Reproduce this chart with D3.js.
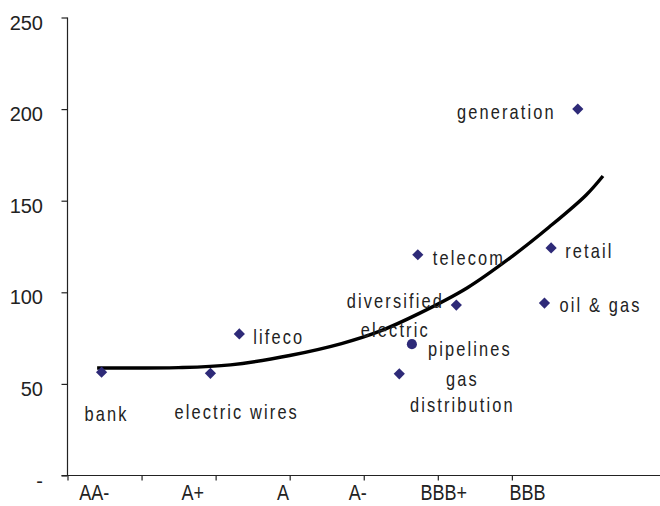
<!DOCTYPE html>
<html>
<head>
<meta charset="utf-8">
<script src="https://cdn.jsdelivr.net/npm/d3@7"></script>
<style>
  html, body { margin: 0; padding: 0; background: #fff; }
  svg { display: block; }
  .ytick { font-family: "Liberation Sans", Arial, sans-serif; font-size: 20px; fill: #222; }
  .xtick { font-family: "Liberation Sans", Arial, sans-serif; font-size: 22px; fill: #222; }
  .plabel { font-family: "Liberation Sans", Arial, sans-serif; font-size: 20px; letter-spacing: 2.6px; fill: #222; }
</style>
</head>
<body>
<svg id="chart" width="660" height="506"></svg>
<script>
// Rating scale: category names and their place on the numeric x axis
const ratings = ["AA-", "A+", "A", "A-", "BBB+", "BBB"];
const ratingPos = [0.36, 1.69, 2.91, 3.92, 5.08, 6.21];
const xTickValues = [0, 1, 2, 3, 4, 5, 6];

// Y axis ticks (spread, bp)
const yTickValues = [0, 50, 100, 150, 200, 250];
const yTickLabels = ["-", "50", "100", "150", "200", "250"];

// Sectors: rating position and spread
const sectors = ["bank", "electric wires", "lifeco", "gas distribution", "pipelines",
                 "telecom", "diversified electric", "oil & gas", "retail", "generation"];
const sectorRating = [0.46, 1.93, 2.32, 4.48, 4.65, 4.73, 5.25, 6.44, 6.53, 6.89];
const sectorSpread = [56.4, 55.8, 77.3, 55.5, 71.7, 120.5, 93.0, 94.1, 124.2, 200];
const sectorShape = ["diamond", "diamond", "diamond", "diamond", "circle",
                     "diamond", "diamond", "diamond", "diamond", "diamond"];

// Trend curve through rating / spread
const trendRating = [0.40, 1.5, 2.2, 3.0, 3.7, 4.2, 4.75, 5.4, 6.0, 6.5, 7.0, 7.23];
const trendSpread = [58.7, 58.9, 60.4, 65.5, 72.0, 78.5, 88.5, 102.5, 119.5, 135.5, 153.0, 163.5];

// Label placement (pixel offsets from the marker, one or two lines)
const labelStyle = {
  "bank":                 { anchor: "start",  dx: -17, dy: [49] },
  "electric wires":       { anchor: "start",  dx: -36, dy: [46] },
  "lifeco":               { anchor: "start",  dx: 14,  dy: [10] },
  "gas distribution":     { anchor: "middle", dx: 63,  dy: [12, 38], lines: ["gas", "distribution"] },
  "pipelines":            { anchor: "start",  dx: 16,  dy: [12] },
  "telecom":              { anchor: "start",  dx: 15,  dy: [10] },
  "diversified electric": { anchor: "middle", dx: -61, dy: [3, 32], lines: ["diversified", "electric"] },
  "oil & gas":            { anchor: "start",  dx: 15,  dy: [9] },
  "retail":               { anchor: "start",  dx: 14,  dy: [10] },
  "generation":           { anchor: "end",    dx: -22, dy: [10] }
};

// Condensed look for the category and sector text
const narrowX = 0.82;
const narrowTick = 0.82;

const svg = d3.select("#chart");
const x = d3.scaleLinear().domain([0, 8]).range([67.5, 660]);
const y = d3.scaleLinear().domain([0, 250]).range([475.5, 17.5]);
const axisColor = "#222";

// Y axis
const yAxis = svg.append("g")
  .attr("transform", `translate(${x(0)},0)`)
  .call(d3.axisLeft(y).tickValues(yTickValues).tickSize(6).tickFormat(""));
yAxis.select(".domain").attr("d", `M0,${y(0)}V${y(250)}`);
yAxis.selectAll("path, line").attr("stroke", axisColor).attr("stroke-width", 1.2);
svg.append("g").selectAll("text").data(yTickValues).join("text")
  .attr("class", "ytick")
  .attr("x", 43)
  .attr("y", d => y(d) + 12)
  .attr("text-anchor", "end")
  .text((d, i) => yTickLabels[i]);

// X axis
const xAxis = svg.append("g")
  .attr("transform", `translate(0,${y(0)})`)
  .call(d3.axisBottom(x).tickValues(xTickValues).tickSize(5).tickFormat(""));
xAxis.select(".domain").attr("d", `M${x(0) - 6},0H660`);
xAxis.selectAll("path, line").attr("stroke", axisColor).attr("stroke-width", 1.2);
svg.append("g").selectAll("text").data(ratings).join("text")
  .attr("class", "xtick")
  .attr("transform", (d, i) => `translate(${x(ratingPos[i])},500) scale(${narrowTick},1)`)
  .attr("text-anchor", "middle")
  .text(d => d);

// Trend curve
const line = d3.line()
  .x((d, i) => x(trendRating[i]))
  .y((d, i) => y(trendSpread[i]))
  .curve(d3.curveCatmullRom.alpha(0.5));
svg.append("path")
  .attr("d", line(trendRating))
  .attr("fill", "none")
  .attr("stroke", "#000")
  .attr("stroke-width", 3.4)
  .attr("stroke-linecap", "butt");

// Markers
const markerColor = "#2e2a78";
const diamond = d3.symbol().type(d3.symbolDiamond2).size(80);
const circle = d3.symbol().type(d3.symbolCircle).size(80);
svg.append("g").selectAll("path").data(sectors).join("path")
  .attr("transform", (d, i) => `translate(${x(sectorRating[i])},${y(sectorSpread[i])})`)
  .attr("d", (d, i) => sectorShape[i] === "circle" ? circle() : diamond())
  .attr("fill", markerColor);

// Sector labels
const labels = svg.append("g");
sectors.forEach((name, i) => {
  const s = labelStyle[name];
  const px = x(sectorRating[i]), py = y(sectorSpread[i]);
  const lines = s.lines || [name];
  lines.forEach((t, k) => {
    labels.append("text")
      .attr("class", "plabel")
      .attr("transform", `translate(${px + s.dx},${py + s.dy[k]}) scale(${narrowX},1)`)
      .attr("text-anchor", s.anchor)
      .text(t);
  });
});
</script>
</body>
</html>
